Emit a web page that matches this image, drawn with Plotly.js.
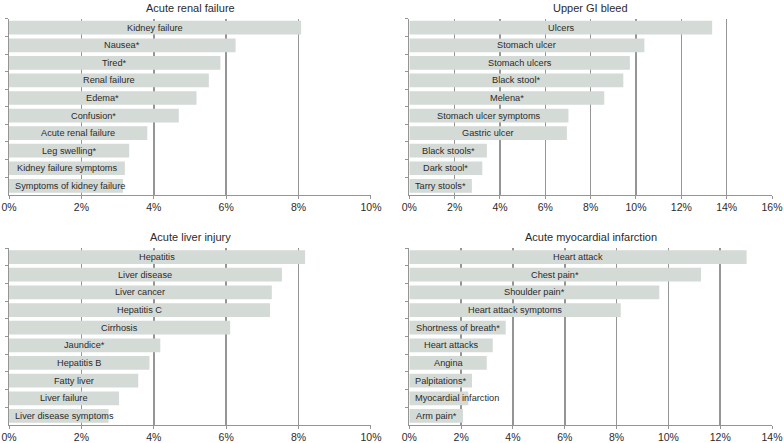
<!DOCTYPE html>
<html>
<head>
<meta charset="utf-8">
<script src="https://cdn.plot.ly/plotly-3.0.1.min.js"></script>
<style>html,body{margin:0;padding:0;background:#fff;}#chart{width:784px;height:443px;}</style>
</head>
<body>
<div id="chart"></div>
<script>
// ---- Data (top to bottom order in each panel) ----
const titles = ["Acute renal failure", "Upper GI bleed", "Acute liver injury", "Acute myocardial infarction"];

const renalLabels = ["Kidney failure", "Nausea*", "Tired*", "Renal failure", "Edema*", "Confusion*",
  "Acute renal failure", "Leg swelling*", "Kidney failure symptoms", "Symptoms of kidney failure"];
const renalValues = [8.07, 6.26, 5.84, 5.52, 5.18, 4.69, 3.82, 3.32, 3.20, 3.15];

const giLabels = ["Ulcers", "Stomach ulcer", "Stomach ulcers", "Black stool*", "Melena*",
  "Stomach ulcer symptoms", "Gastric ulcer", "Black stools*", "Dark stool*", "Tarry stools*"];
const giValues = [13.36, 10.37, 9.73, 9.44, 8.60, 7.02, 6.95, 3.42, 3.22, 2.76];

const liverLabels = ["Hepatitis", "Liver disease", "Liver cancer", "Hepatitis C", "Cirrhosis",
  "Jaundice*", "Hepatitis B", "Fatty liver", "Liver failure", "Liver disease symptoms"];
const liverValues = [8.18, 7.54, 7.26, 7.21, 6.11, 4.18, 3.88, 3.57, 3.04, 2.75];

const miLabels = ["Heart attack", "Chest pain*", "Shoulder pain*", "Heart attack symptoms",
  "Shortness of breath*", "Heart attacks", "Angina", "Palpitations*", "Myocardial infarction", "Arm pain*"];
const miValues = [13.02, 11.26, 9.65, 8.16, 3.72, 3.22, 2.99, 2.42, 2.28, 2.07];

const xMax = [10, 16, 10, 14];
const tickStep = 2;

// ---- Styling ----
const W = 784, H = 443;
const barColor = "#d4dad6";
const gridColor = "#959595";
const textColor = "#2b2b2b";
const fontFam = "Liberation Sans, Arial, sans-serif";
const labelSize = 9.2;

const xDomains = [[0.0115, 0.4732], [0.5221, 0.9847], [0.0115, 0.4732], [0.5221, 0.9847]];
const yDomains = [[0.5607, 0.9573], [0.5607, 0.9573], [0.0411, 0.4397], [0.0411, 0.4397]];

const panels = [
  {labels: renalLabels, values: renalValues},
  {labels: giLabels, values: giValues},
  {labels: liverLabels, values: liverValues},
  {labels: miLabels, values: miValues}
];

const canvas = document.createElement("canvas");
const ctx = canvas.getContext("2d");
ctx.font = labelSize + "px Liberation Sans";
function textW(s) { return ctx.measureText(s).width; }

const data = [];
const annotations = [];
const layout = {
  width: W, height: H,
  margin: {l: 0, r: 0, t: 0, b: 0},
  paper_bgcolor: "#fff", plot_bgcolor: "#fff",
  showlegend: false,
  bargap: 0.22,
  font: {family: fontFam, color: textColor},
  annotations: annotations
};

panels.forEach((p, i) => {
  const n = i + 1;
  const xa = n === 1 ? "x" : "x" + n;
  const ya = n === 1 ? "y" : "y" + n;
  data.push({
    type: "bar", orientation: "h",
    x: p.values, y: p.labels,
    xaxis: xa, yaxis: ya,
    marker: {color: barColor, line: {width: 0}},
    hoverinfo: "none"
  });
  const ticks = [];
  for (let t = 0; t <= xMax[i]; t += tickStep) ticks.push(t);
  layout["xaxis" + (n === 1 ? "" : n)] = {
    domain: xDomains[i], anchor: ya,
    range: [0, xMax[i]], fixedrange: true,
    tickvals: ticks, ticktext: ticks.map(t => t + "%"),
    showgrid: true, gridcolor: gridColor, gridwidth: 1.5,
    zeroline: false,
    showline: true, linecolor: gridColor, linewidth: 1,
    ticks: "outside", ticklen: 3, tickcolor: gridColor, tickwidth: 1,
    tickfont: {size: 10.5, color: textColor, family: fontFam},
    layer: "below traces"
  };
  layout["yaxis" + (n === 1 ? "" : n)] = {
    domain: yDomains[i], anchor: xa,
    type: "category", autorange: "reversed", fixedrange: true,
    showticklabels: false,
    ticks: "outside", tickson: "boundaries", ticklen: 3, tickcolor: gridColor, tickwidth: 1,
    showgrid: false, zeroline: false,
    showline: true, linecolor: gridColor, linewidth: 1,
    layer: "below traces"
  };
  const pxPerUnit = (xDomains[i][1] - xDomains[i][0]) * W / xMax[i];
  p.labels.forEach((lab, k) => {
    const barPx = p.values[k] * pxPerUnit;
    const tw = textW(lab);
    const fits = tw + 8 <= barPx;
    annotations.push({
      xref: xa, yref: ya,
      x: fits ? p.values[k] / 2 : 0,
      y: lab,
      xanchor: fits ? "center" : "left",
      xshift: fits ? 0 : 4,
      yanchor: "middle",
      text: lab, showarrow: false,
      font: {size: labelSize, color: textColor, family: fontFam}
    });
  });
  annotations.push({
    xref: "paper", yref: "paper",
    x: (xDomains[i][0] + xDomains[i][1]) / 2,
    y: yDomains[i][1], yshift: 11,
    xanchor: "center", yanchor: "middle",
    text: titles[i], showarrow: false,
    font: {size: 11, color: textColor, family: fontFam}
  });
});

Plotly.newPlot("chart", data, layout, {staticPlot: true, displayModeBar: false});
</script>
</body>
</html>
